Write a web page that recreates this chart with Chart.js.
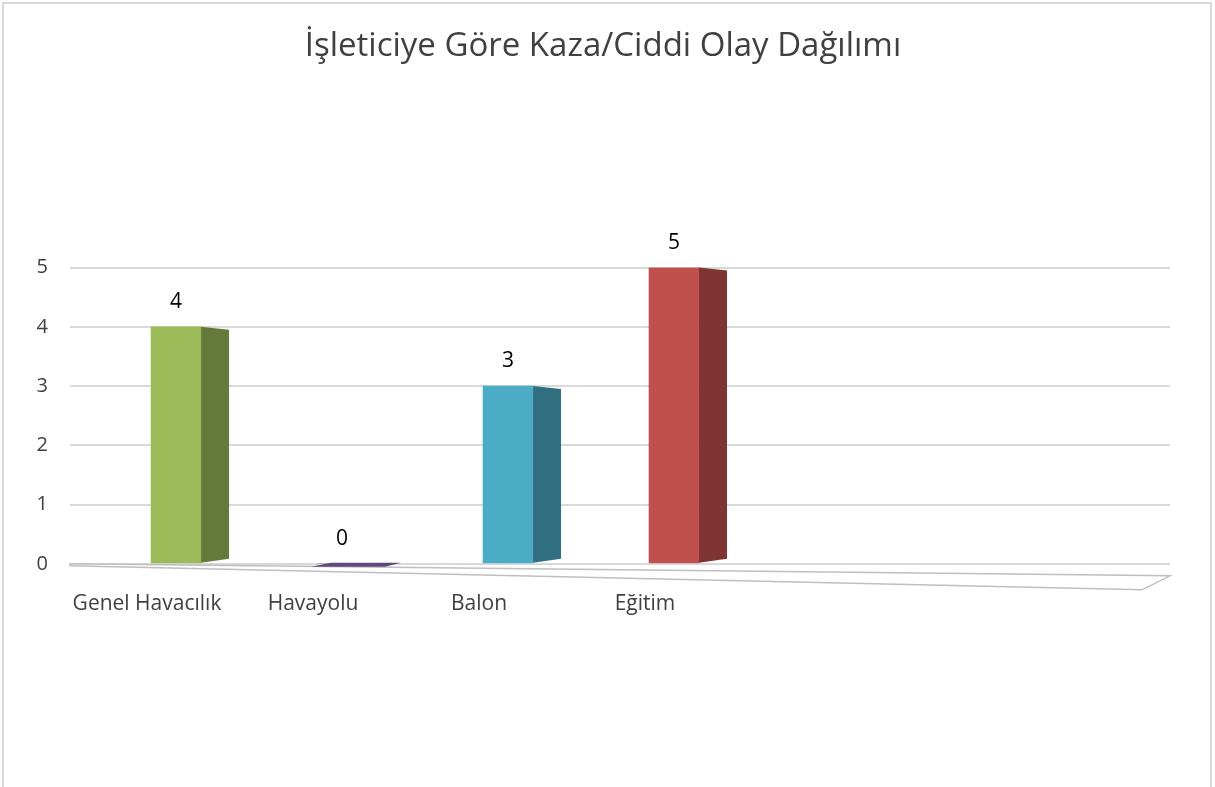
<!DOCTYPE html>
<html>
<head>
<meta charset="utf-8">
<script src="https://cdn.jsdelivr.net/npm/chart.js@4/dist/chart.umd.min.js"></script>
<style>
  html, body { margin: 0; padding: 0; background: #fff; }
  #wrap { position: absolute; left: 0; top: 0; width: 1215px; height: 787px; }
  #frame { position: absolute; left: 2px; top: 2px; width: 1210px; height: 800px; border: 2px solid #d9d9d9; box-sizing: border-box; }
  canvas { position: absolute; left: 0; top: 0; }
</style>
</head>
<body>
<div id="wrap">
  <div id="frame"></div>
  <canvas id="c" width="1215" height="787"></canvas>
</div>
<script>
// ---- data ----
const titleText = 'İşleticiye Göre Kaza/Ciddi Olay Dağılımı';
const categories = ['Genel Havacılık', 'Havayolu', 'Balon', 'Eğitim'];
const values = [4, 0, 3, 5];
const yTicks = [0, 1, 2, 3, 4, 5];
const frontColors = ['#9BBB59', '#8064A2', '#4BACC6', '#C0504D'];
const sideColors = ['#657A3A', '#5F4A7A', '#316F80', '#7E3431'];

const FONT = "'Open Sans', 'Noto Sans', sans-serif";
const DEPTH = 28;

const points = values.map((v, i) => ({ x: i, y: v }));

const bar3d = {
  id: 'bar3d',
  beforeDatasetsDraw(chart) {
    const ctx = chart.ctx;
    const y0 = chart.scales.y.getPixelForValue(0);
    const { left, right } = chart.chartArea;
    ctx.save();
    ctx.strokeStyle = '#bfbfbf';
    ctx.lineWidth = 1.5;
    ctx.fillStyle = '#ffffff';
    ctx.beginPath();
    ctx.moveTo(left, y0);
    ctx.lineTo(right, y0 + 12);
    ctx.lineTo(right - 28, y0 + 26);
    ctx.lineTo(left, y0 + 2);
    ctx.closePath();
    ctx.fill();
    ctx.stroke();
    ctx.restore();
  },
  afterDatasetsDraw(chart) {
    const ctx = chart.ctx;
    const meta = chart.getDatasetMeta(0);
    ctx.save();
    meta.data.forEach((bar, i) => {
      const p = bar.getProps(['x', 'y', 'base', 'width'], true);
      const xr = p.x + p.width / 2;
      const xl = p.x - p.width / 2;
      ctx.fillStyle = sideColors[i];
      if (Math.abs(p.base - p.y) < 1) {
        ctx.beginPath();
        ctx.moveTo(xl - 6, p.base + 3);
        ctx.lineTo(xr + DEPTH - 10, p.base + 3);
        ctx.lineTo(xr + DEPTH + 6, p.base - 1);
        ctx.lineTo(xl + 14, p.base - 1);
        ctx.closePath();
        ctx.fill();
      } else {
        ctx.beginPath();
        ctx.moveTo(xr, p.y);
        ctx.lineTo(xr + DEPTH, p.y + 3);
        ctx.lineTo(xr + DEPTH, p.base - 4);
        ctx.lineTo(xr, p.base);
        ctx.closePath();
        ctx.fill();
      }
      ctx.fillStyle = '#000000';
      ctx.font = '21px ' + FONT;
      ctx.textAlign = 'center';
      ctx.textBaseline = 'middle';
      ctx.fillText(String(values[i]), p.x, p.y - 25);
    });
    ctx.restore();
  }
};

new Chart(document.getElementById('c'), {
  type: 'bar',
  data: {
    datasets: [{
      data: points,
      backgroundColor: frontColors,
      borderWidth: 0,
      barThickness: 50
    }]
  },
  options: {
    responsive: false,
    animation: false,
    events: [],
    layout: { padding: { left: 36, right: 45, top: 0, bottom: 142 } },
    plugins: {
      legend: { display: false },
      tooltip: { enabled: false },
      title: {
        display: true,
        text: titleText,
        color: '#404040',
        font: { family: FONT, size: 33, weight: 'normal' },
        padding: { top: 27, bottom: 201 }
      }
    },
    scales: {
      x: {
        type: 'linear',
        display: false,
        offset: false,
        min: -0.639,
        max: 5.988
      },
      xl: {
        type: 'linear',
        position: 'bottom',
        offset: false,
        min: -0.464,
        max: 6.163,
        grid: { display: false, drawTicks: false, offset: false },
        border: { display: false },
        afterFit: (s) => { s.paddingLeft = 0; s.paddingRight = 0; },
        ticks: {
          stepSize: 1,
          includeBounds: false,
          autoSkip: false,
          maxRotation: 0,
          padding: 28,
          color: '#404040',
          font: { family: FONT, size: 21 },
          callback: (v) => (Number.isInteger(v) && categories[v] !== undefined) ? categories[v] : ''
        }
      },
      y: {
        min: yTicks[0],
        max: yTicks[yTicks.length - 1],
        afterBuildTicks: (scale) => { scale.ticks = yTicks.map(v => ({ value: v })); },
        afterFit: (s) => { s.width = 34; },
        grid: { color: '#d9d9d9', lineWidth: 2, drawTicks: false },
        border: { display: false },
        ticks: {
          padding: 22,
          color: '#404040',
          font: { family: FONT, size: 20 }
        }
      }
    }
  },
  plugins: [bar3d]
});
</script>
</body>
</html>
